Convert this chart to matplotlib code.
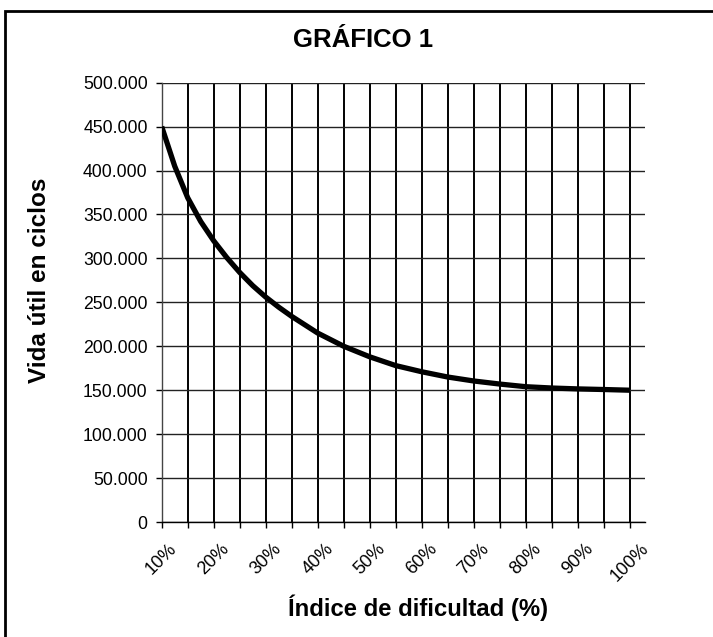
import numpy as np
import matplotlib.pyplot as plt
from matplotlib.ticker import FuncFormatter, MultipleLocator
from matplotlib.patches import Rectangle

plt.rcParams['font.family'] = ['Liberation Sans', 'DejaVu Sans']

# Índice de dificultad (%) y vida útil (ciclos)
dificultad = [10, 12.5, 15, 17.5, 20, 22.5, 25, 27.5, 30, 32.5, 35, 40, 45, 50, 55,
              60, 65, 70, 75, 80, 85, 90, 95, 100]
vida_util = [450000, 405000, 369000, 342000, 320000, 301000, 284000, 269000, 256000,
             244500, 234000, 215000, 200000, 188000, 178000, 171000, 165000, 160500,
             157000, 154000, 152500, 151500, 150800, 150000]
ticks_mayores = [10, 20, 30, 40, 50, 60, 70, 80, 90, 100]
ticks_menores = [15, 25, 35, 45, 55, 65, 75, 85, 95]
etiquetas_x = ['10%', '20%', '30%', '40%', '50%', '60%', '70%', '80%', '90%', '100%']

fig = plt.figure(figsize=(7.13, 6.37), dpi=100)
ax = fig.add_axes([0.2268, 0.1805, 0.6778, 0.6897])

ax.plot(dificultad, vida_util, color='black', lw=3.8, solid_capstyle='butt',
        solid_joinstyle='round', zorder=3)

ax.set_xlim(10, 102.9)
ax.set_ylim(0, 500000)

ax.yaxis.set_major_locator(MultipleLocator(50000))
ax.yaxis.set_major_formatter(FuncFormatter(lambda v, p: f"{int(v):,}".replace(",", ".")))
ax.set_xticks(ticks_mayores)
ax.set_xticks(ticks_menores, minor=True)
ax.set_xticklabels(etiquetas_x, rotation=45, ha='center', va='top')

ax.tick_params(axis='y', length=4.1, width=1, labelsize=12.7, pad=6)
ax.tick_params(axis='x', which='both', length=4.1, width=1, labelsize=13, pad=9)

ax.grid(axis='y', color='#222222', lw=1.0)
ax.grid(axis='x', which='both', color='black', lw=1.4)
ax.set_axisbelow(True)

for side in ['top', 'right']:
    ax.spines[side].set_visible(False)
ax.spines['left'].set_linewidth(1.0)
ax.spines['left'].set_color('#444444')
ax.spines['bottom'].set_linewidth(1.0)

fig.text(0.586, 0.033, 'Índice de dificultad (%)', ha='center', va='baseline',
         fontsize=17.2, fontweight='bold')
fig.text(0.056, 0.560, 'Vida útil en ciclos', ha='center', va='center', rotation=90,
         fontsize=17.5, fontweight='bold')
fig.text(0.509, 0.9267, 'GRÁFICO 1', ha='center', va='baseline', fontsize=18.5, fontweight='bold')

# marco exterior
fig.patches.append(Rectangle((0.007, -0.02), 1.05, 1.003, transform=fig.transFigure,
                             fill=False, lw=2.0, edgecolor='black'))

plt.savefig('out.png', dpi=100)
